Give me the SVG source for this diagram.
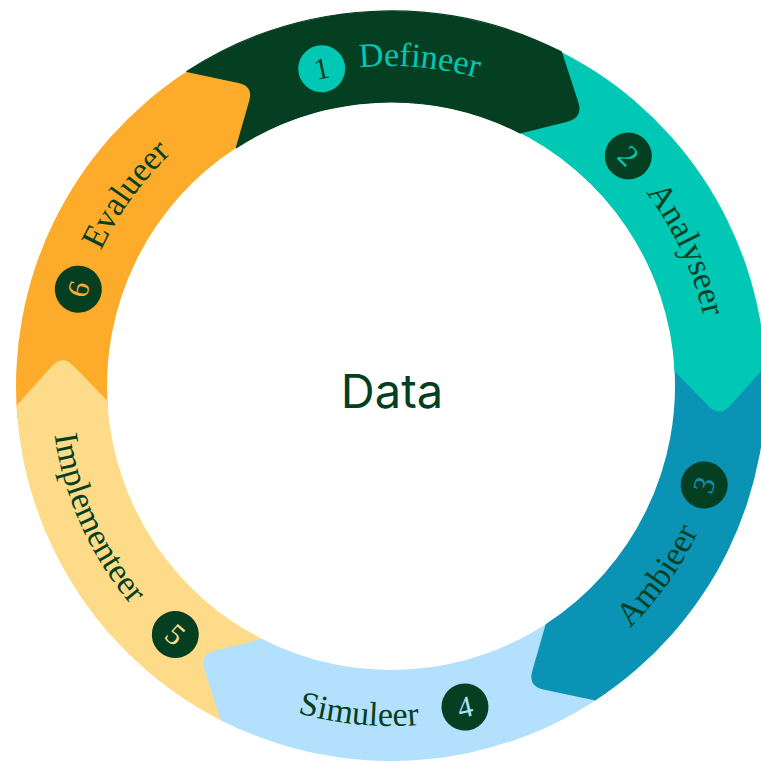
<svg xmlns="http://www.w3.org/2000/svg" width="761" height="761" viewBox="0 0 761 761">
<style>
.lbl{font-family:"Liberation Serif","Times New Roman",serif;font-size:34px;}
.num{font-family:"Liberation Serif","Times New Roman",serif;font-size:30px;text-anchor:middle;}
.center{font-family:Inter,"Liberation Sans",sans-serif;font-size:47px;fill:#053F21;text-anchor:middle;}
</style>
<defs>
<path id="seg" d="M 176.05 -331.11 A 375 375 0 0 1 375 0 L 337.68 37.45 Q 326.38 48.78 315.89 36.70 L 284 0 A 284 284 0 0 0 133.33 -250.76 Z"/>
<path id="seg1" d="M 187.5 -324.76 A 375 375 0 0 1 375 0 L 337.68 37.45 Q 326.38 48.78 315.89 36.70 L 284 0 A 284 284 0 0 0 142 -245.95 L 189.73 -255.22 Q 205.44 -258.27 201.27 -273.71 Z"/>
<path id="p1" d="M 207.45 123.87 A 320 320 0 0 1 617.27 159.73"/>
<path id="p2" d="M 527.25 96.45 A 320 320 0 0 1 699.81 469.90"/>
<path id="p3" d="M 476.99 714.95 A 340 340 0 0 0 729.88 358.44"/>
<path id="p4" d="M 148.15 623.96 A 340 340 0 0 0 583.09 666.54"/>
<path id="p5" d="M 63.85 293.42 A 340 340 0 0 0 243.02 692.11"/>
<path id="p6" d="M 71.86 409.44 A 320 320 0 0 1 312.50 75.78"/>
</defs>

<g id="step6">
<use href="#seg" transform="translate(391 386) rotate(237)" fill="#FDAB2B"/>
<g transform="translate(78.3 289.2) rotate(-72.8)"><circle r="23.5" fill="#053F21"/><text class="num" y="10" fill="#FDAB2B">6</text></g>
<text class="lbl" fill="#053F21"><textPath href="#p6" startOffset="50%" text-anchor="middle">Evalueer</textPath></text>
</g>

<g id="step5">
<use href="#seg" transform="translate(391 386) rotate(177)" fill="#FEDB88"/>
<g transform="translate(175.3 634.5) rotate(41)"><circle r="23.5" fill="#053F21"/><text class="num" y="10" fill="#FEDB88">5</text></g>
<text class="lbl" fill="#053F21"><textPath href="#p5" startOffset="50%" text-anchor="middle">Implementeer</textPath></text>
</g>

<g id="step4">
<use href="#seg" transform="translate(391 386) rotate(117)" fill="#B2E0FD"/>
<g transform="translate(465 707) rotate(-13)"><circle r="23.5" fill="#053F21"/><text class="num" y="10" fill="#B2E0FD">4</text></g>
<text class="lbl" fill="#053F21"><textPath href="#p4" startOffset="50%" text-anchor="middle">Simuleer</textPath></text>
</g>

<g id="step3">
<use href="#seg" transform="translate(391 386) rotate(57)" fill="#0B93B5"/>
<g transform="translate(704.2 485) rotate(-72.5)"><circle r="23.5" fill="#053F21"/><text class="num" y="10" fill="#0B93B5">3</text></g>
<text class="lbl" fill="#053F21"><textPath href="#p3" startOffset="50%" text-anchor="middle">Ambieer</textPath></text>
</g>

<g id="step2">
<use href="#seg" transform="translate(391 386) rotate(-3)" fill="#00C8B4"/>
<g transform="translate(628.3 156) rotate(45.9)"><circle r="23.5" fill="#053F21"/><text class="num" y="10" fill="#00C8B4">2</text></g>
<text class="lbl" fill="#053F21"><textPath href="#p2" startOffset="50%" text-anchor="middle">Analyseer</textPath></text>
</g>

<g id="step1">
<use href="#seg1" transform="translate(391 386) rotate(-63)" fill="#053F21" stroke="#053F21" stroke-width="1.2" stroke-linejoin="round"/>
<g transform="translate(321.7 68.7) rotate(-12.3)"><circle r="23.5" fill="#00C8B4"/><text class="num" y="10" fill="#053F21">1</text></g>
<text class="lbl" fill="#00C8B4"><textPath href="#p1" startOffset="50%" text-anchor="middle">Defineer</textPath></text>
</g>

<g id="data">
<text class="center" x="392" y="408">Data</text>
</g>
</svg>
